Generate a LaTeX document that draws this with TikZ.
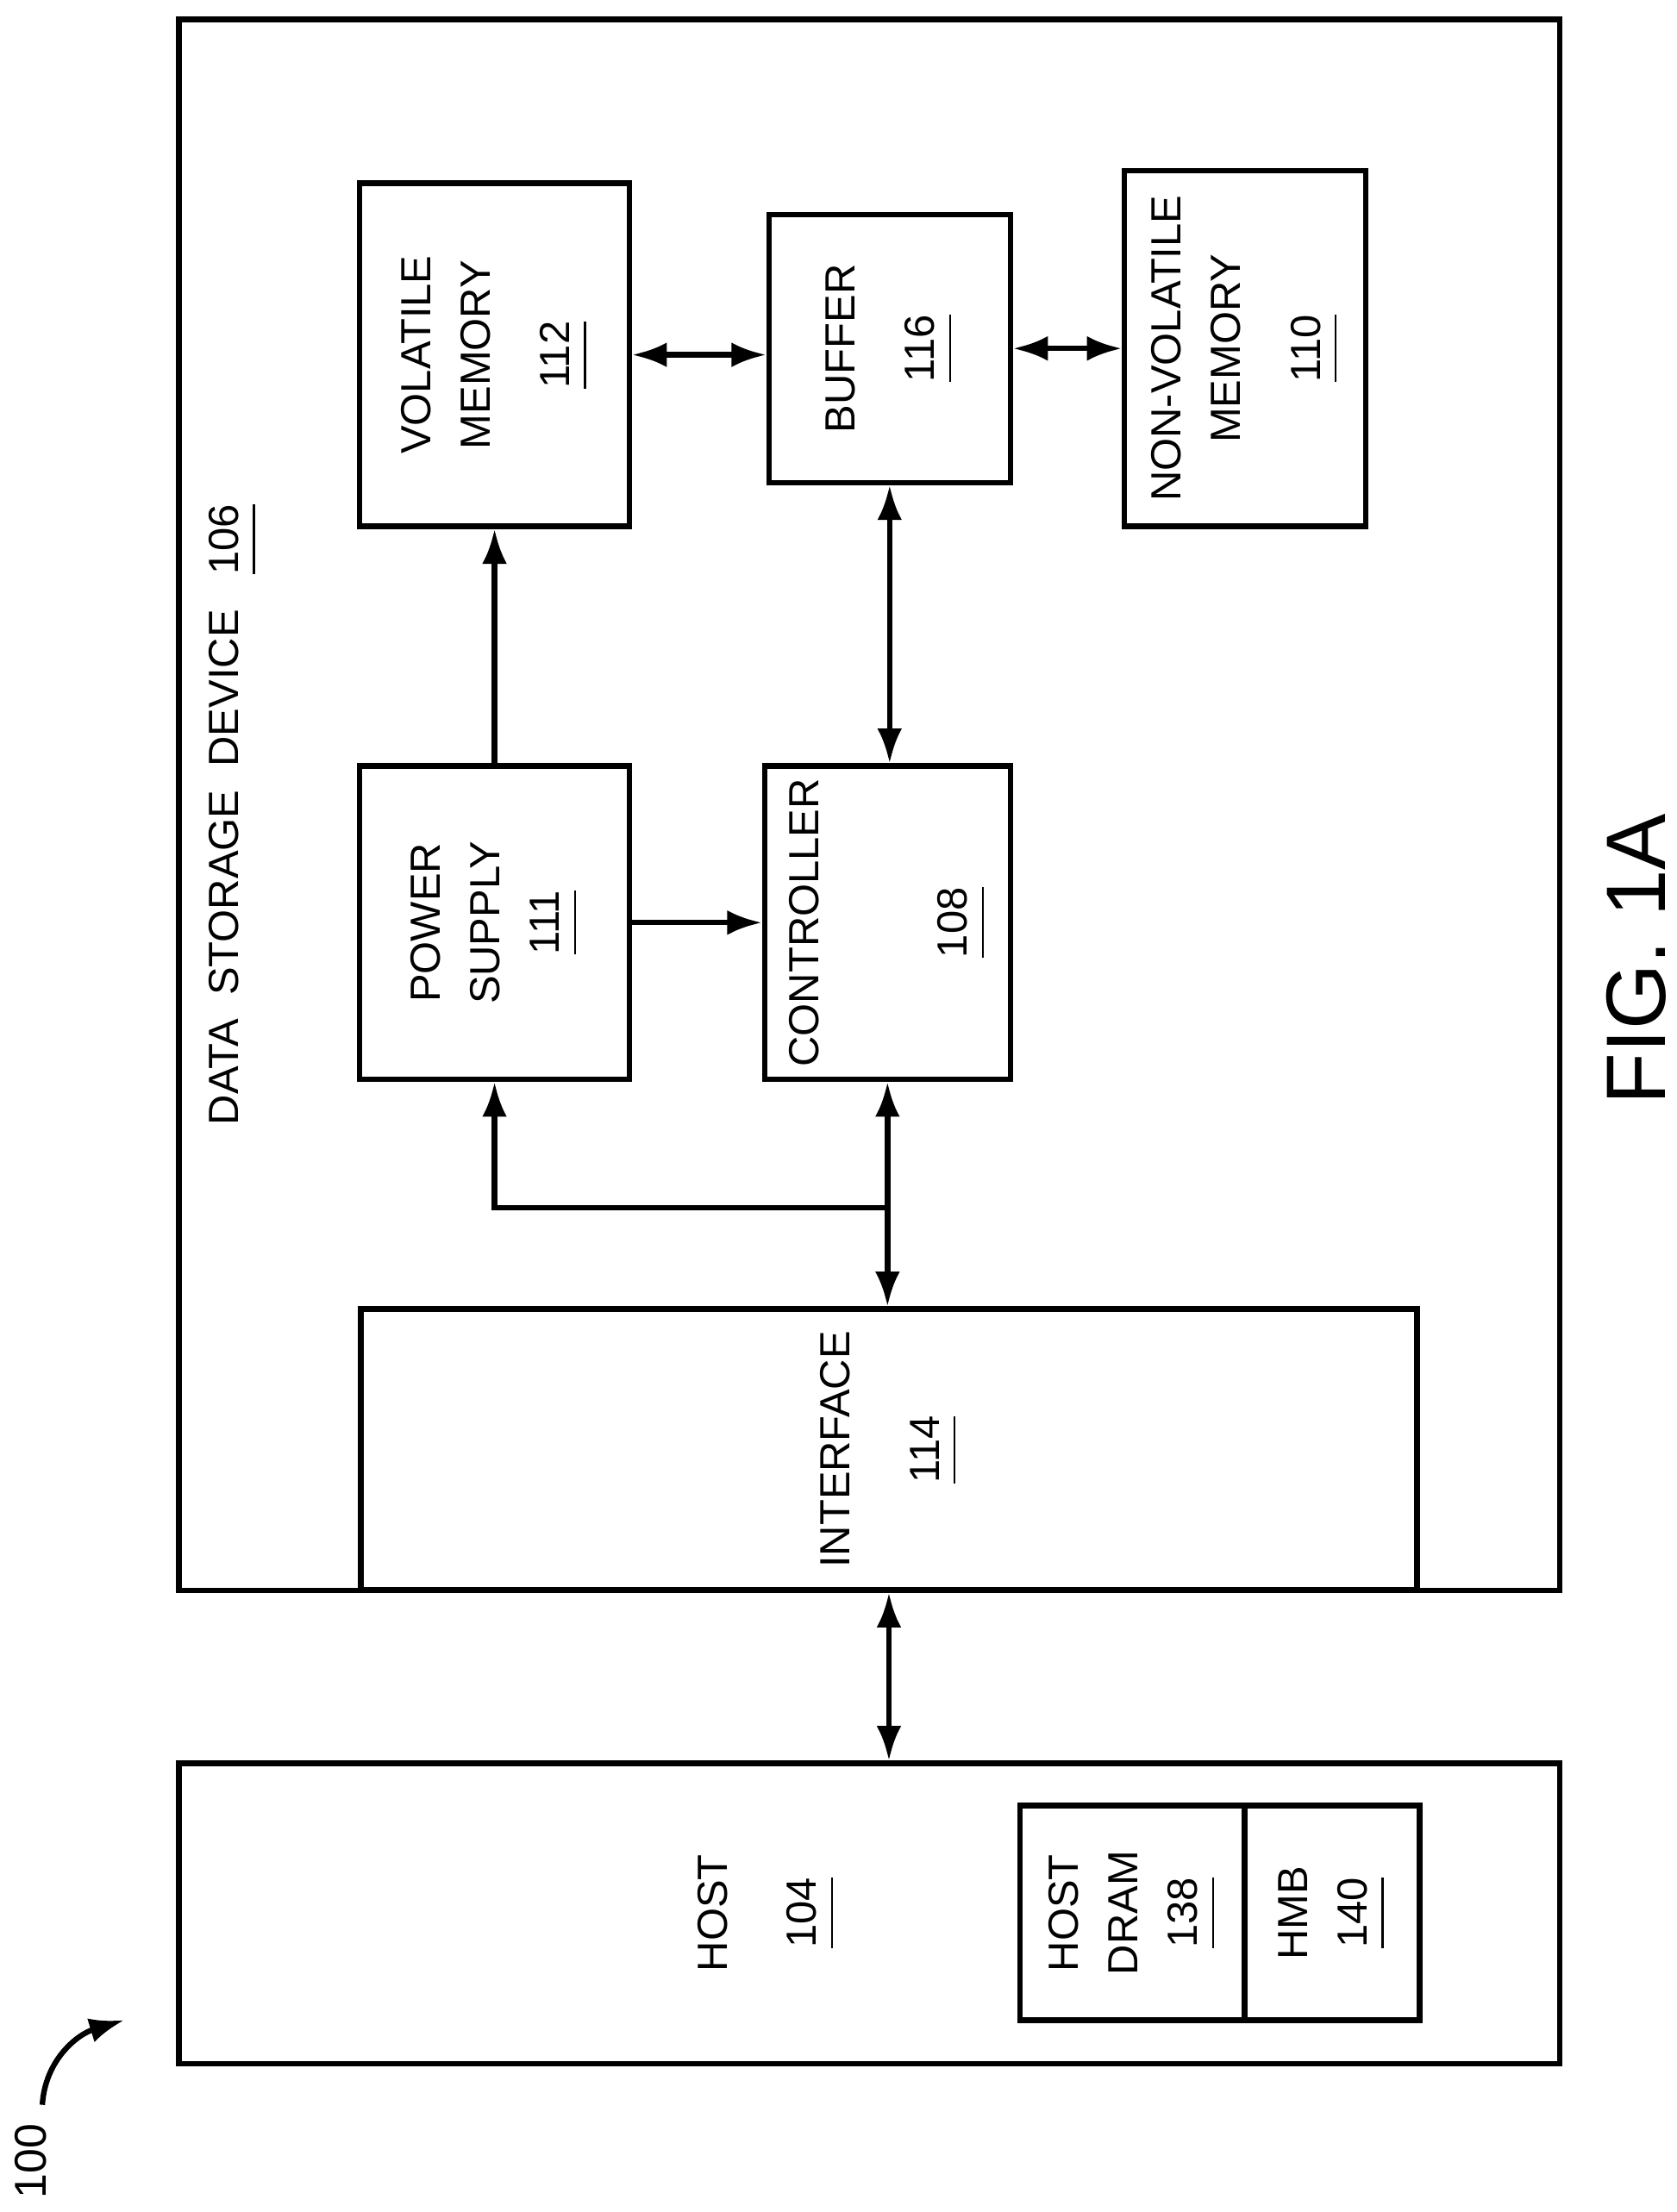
\documentclass[tikz,border=0pt]{standalone}
\usepackage{fontspec}
\setmainfont{Liberation Sans}
\usetikzlibrary{arrows.meta}
\newcommand{\refnum}[1]{\underline{\smash{#1}\vphantom{y}}}
\tikzset{
  box/.style={draw, line width=1.1pt, inner sep=0pt},
  txt/.style={rotate=90, align=center, font=\fontsize{8.5}{12}\selectfont},
  link/.style={line width=1.1pt, {Latex[length=7pt,width=5pt]}-{Latex[length=7pt,width=5pt]}},
  feed/.style={line width=1.1pt, -{Latex[length=7pt,width=5pt]}}
}
\begin{document}
\begin{tikzpicture}[x=0.01cm,y=-0.01cm]
    \useasboundingbox (0,0) rectangle (1188,1568);

    % outer boxes
    \node[box, minimum width=9.78cm, minimum height=11.13cm] (dsd) at (616,570.5) {};
    \node[box, minimum width=9.78cm, minimum height=2.13cm] (host) at (616,1356.5) {};
    \node[txt, anchor=west] (dsdlbl) at (165,810) {DATA\ \ STORAGE\ \ DEVICE\ \ \ \refnum{106}};

    % inner blocks
    \node[box, minimum width=1.91cm, minimum height=2.43cm] (vm) at (350.5,251.5) {};
    \node[box, minimum width=1.71cm, minimum height=1.90cm] (buf) at (630.5,247) {};
    \node[box, minimum width=1.71cm, minimum height=2.52cm] (nvm) at (882.5,247) {};
    \node[box, minimum width=1.91cm, minimum height=2.22cm] (ps) at (350.5,654) {};
    \node[box, minimum width=1.74cm, minimum height=2.22cm] (ctl) at (629,654) {};
    \node[box, minimum width=7.48cm, minimum height=1.99cm] (intf) at (630,1027.5) {};
    \node[box, minimum width=1.59cm, minimum height=1.52cm] (dram) at (802.5,1356) {};
    \node[box, minimum width=1.24cm, minimum height=1.52cm] (hmb) at (944,1356) {};

    \node[txt] (vmlbl) at (vm) {VOLATILE\\MEMORY\\[4pt]\refnum{112}};
    \node[txt] (buflbl) at (buf) {BUFFER\\[4pt]\refnum{116}};
    \node[txt] (nvmlbl) at (nvm) {NON-VOLATILE\\MEMORY\\[4pt]\refnum{110}};
    \node[txt] (pslbl) at (ps) {POWER\\SUPPLY\\\refnum{111}};
    \node[txt] (ctllbl) at (ctl) {CONTROLLER\\[18pt]\refnum{108}};
    \node[txt] (intflbl) at (intf) {INTERFACE\\[6pt]\refnum{114}};
    \node[txt] (hostlbl) at (543,1356) {HOST\\[6pt]\refnum{104}};
    \node[txt] (dramlbl) at (dram) {HOST\\DRAM\\\refnum{138}};
    \node[txt] (hmblbl) at (hmb) {HMB\\\refnum{140}};

    % connectors
    \draw[link] (vm.east) -- (vm.east -| buf.west);
    \draw[link] (buf.east) -- (nvm.west);
    \draw[link] (buf.south) -- (buf.south |- ctl.north);
    \draw[feed] (ps.north) -- (vm.south);
    \draw[feed] (ps.east) -- (ctl.west);
    \draw[link] (ctl.south) -- (ctl.south |- intf.north);
    \coordinate (br) at (ctl.south |- 0,856);
    \draw[feed] (br) -| (ps.south);
    \draw[link] (intf.south) -- (intf.south |- host.north);

    % figure labels
    \node[rotate=90, font=\fontsize{17}{20}\selectfont] (fig) at (1160,680) {FIG. 1A};
    \node[rotate=90, font=\fontsize{9}{11}\selectfont] (num) at (22,1532) {100};
    \coordinate (numtip) at (88,1432);
    \draw[feed] (30,1492) .. controls (32,1460) and (55,1442) .. (numtip);
\end{tikzpicture}
\end{document}
